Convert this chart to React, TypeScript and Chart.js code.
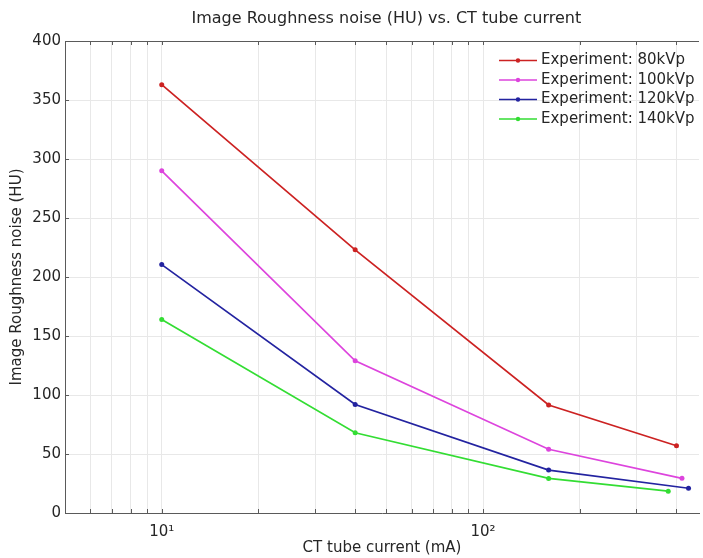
import { useEffect, useRef } from 'react';
import { Chart, registerables } from 'chart.js';

Chart.register(...registerables);

// ---- data ----
const chartTitle = 'Image Roughness noise (HU) vs. CT tube current';
const xTitle = 'CT tube current (mA)';
const yTitle = 'Image Roughness noise (HU)';

const seriesLabels = ['Experiment: 80kVp', 'Experiment: 100kVp', 'Experiment: 120kVp', 'Experiment: 140kVp'];
const seriesColors = ['#cc2222', '#dd44dd', '#2323a0', '#33dd33'];

const current80 = [10, 40, 160, 400];
const noise80 = [363, 223, 91.5, 57];
const current100 = [10, 40, 160, 416];
const noise100 = [290, 129, 54, 29.4];
const current120 = [10, 40, 160, 436];
const noise120 = [210.5, 92, 36.4, 21];
const current140 = [10, 40, 160, 377];
const noise140 = [164, 68, 29.3, 18.5];

const xMin = 5;
const xMax = 470;
const xAxisEnd = 500;
const xTickValues = [5, 6, 7, 8, 9, 10, 20, 30, 40, 50, 60, 70, 80, 90, 100, 200, 300, 400];
const xLabelValues = [10, 100];
const xLabelTexts = ['10\u00B9', '10\u00B2'];
const yMin = 0;
const yMax = 400;
const yStep = 50;

const FONT = 'DejaVu Sans, Arial, sans-serif';
const TEXT = '#262626';
const GRID = '#e8e8e8';
const AXIS = '#5a5a5a';

const currents = [current80, current100, current120, current140];
const noises = [noise80, noise100, noise120, noise140];

const framePlugin = {
  id: 'frame',
  beforeDatasetsDraw(chart: any) {
    const { ctx, chartArea } = chart;
    const xs = chart.scales.x;
    const ys = chart.scales.y;
    ctx.save();
    ctx.strokeStyle = AXIS;
    ctx.lineWidth = 1;
    // top border
    ctx.beginPath();
    ctx.moveTo(chartArea.left, chartArea.top + 0.5);
    ctx.lineTo(chartArea.right, chartArea.top + 0.5);
    ctx.stroke();
    // inward ticks on x
    ctx.beginPath();
    for (const v of xTickValues) {
      const px = Math.round(xs.getPixelForValue(v)) + 0.5;
      ctx.moveTo(px, chartArea.bottom);
      ctx.lineTo(px, chartArea.bottom - 4);
      ctx.moveTo(px, chartArea.top);
      ctx.lineTo(px, chartArea.top + 4);
    }
    // inward ticks on y
    for (let v = yMin; v <= yMax; v += yStep) {
      const py = Math.round(ys.getPixelForValue(v)) + 0.5;
      ctx.moveTo(chartArea.left, py);
      ctx.lineTo(chartArea.left + 4, py);
    }
    ctx.stroke();
    ctx.restore();
  },
  afterDraw(chart: any) {
    const { ctx, chartArea } = chart;
    const xs = chart.scales.x;
    ctx.save();
    // title centred over the full axis span
    ctx.font = `16px ${FONT}`;
    ctx.fillStyle = TEXT;
    ctx.textAlign = 'center';
    ctx.textBaseline = 'middle';
    const cx = (chartArea.left + xs.getPixelForValue(xAxisEnd)) / 2;
    ctx.fillText(chartTitle, cx, 19);
    // legend
    ctx.font = `15px ${FONT}`;
    const lx = chartArea.left + 434;
    let ly = chartArea.top + 19.5;
    ctx.textAlign = 'left';
    chart.data.datasets.forEach((ds: any) => {
      ctx.strokeStyle = ds.borderColor;
      ctx.fillStyle = ds.borderColor;
      ctx.lineWidth = 1.6;
      ctx.beginPath();
      ctx.moveTo(lx, ly);
      ctx.lineTo(lx + 38, ly);
      ctx.stroke();
      ctx.beginPath();
      ctx.arc(lx + 19, ly, 2.2, 0, Math.PI * 2);
      ctx.fill();
      ctx.fillStyle = TEXT;
      ctx.fillText(ds.label, lx + 42, ly);
      ly += 19.5;
    });
    ctx.restore();
  },
};

export default function App() {
  const ref = useRef<HTMLCanvasElement>(null);
  useEffect(() => {
    const chart = new Chart(ref.current as HTMLCanvasElement, {
      type: 'line',
      data: {
        datasets: seriesLabels.map((label, i) => ({
          label,
          data: currents[i].map((x, j) => ({ x, y: noises[i][j] })),
          borderColor: seriesColors[i],
          backgroundColor: seriesColors[i],
          borderWidth: 1.7,
          pointRadius: 2.5,
          pointBorderWidth: 0,
          tension: 0,
        })),
      },
      options: {
        animation: false,
        responsive: false,
        maintainAspectRatio: false,
        layout: { padding: { top: 41, left: 0, right: 0, bottom: 0 } },
        plugins: {
          legend: { display: false },
          title: { display: false },
          tooltip: { enabled: false },
        },
        scales: {
          x: {
            type: 'logarithmic',
            min: xMin,
            max: xMax,
            afterFit: (s: any) => {
              s.height = 45;
            },
            afterBuildTicks: (s: any) => {
              s.ticks = xTickValues.map((v) => ({ value: v }));
            },
            ticks: {
              autoSkip: false,
              maxRotation: 0,
              padding: 10,
              font: { family: FONT, size: 15 },
              color: TEXT,
              callback: (v: any) => {
                const k = xLabelValues.indexOf(Number(v));
                return k >= 0 ? xLabelTexts[k] : '';
              },
            },
            grid: { color: GRID, drawTicks: false },
            border: { color: AXIS },
            title: {
              display: true,
              text: xTitle,
              font: { family: FONT, size: 15 },
              color: TEXT,
              padding: { top: 0, bottom: 1 },
            },
          },
          y: {
            min: yMin,
            max: yMax,
            afterFit: (s: any) => {
              s.width = 65;
            },
            ticks: {
              stepSize: yStep,
              padding: 4,
              font: { family: FONT, size: 15 },
              color: TEXT,
            },
            grid: { color: GRID, drawTicks: false },
            border: { color: AXIS },
            title: {
              display: true,
              text: yTitle,
              font: { family: FONT, size: 15 },
              color: TEXT,
              padding: { top: 8, bottom: 0 },
            },
          },
        },
      } as any,
      plugins: [framePlugin],
    });
    return () => chart.destroy();
  }, []);
  return (
    <div style={{ position: 'absolute', left: 0, top: 0, width: 703, height: 558, background: '#fff' }}>
      <canvas ref={ref} width={703} height={558} style={{ display: 'block' }} />
    </div>
  );
}
